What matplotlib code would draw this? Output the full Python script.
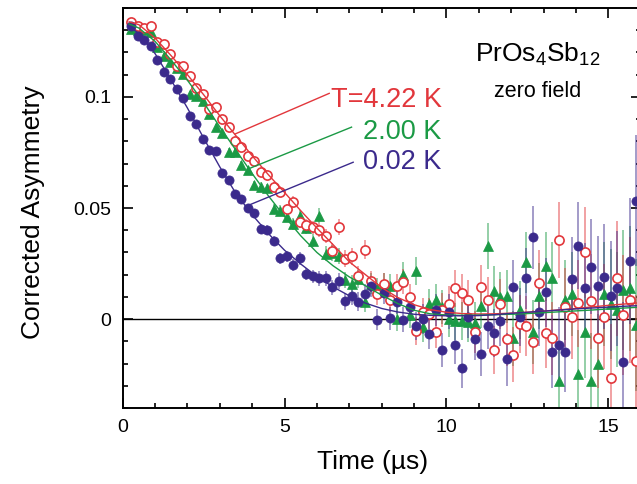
import matplotlib
matplotlib.use("Agg")
import matplotlib.pyplot as plt
from matplotlib.ticker import MultipleLocator, FixedLocator

plt.rcParams['font.family'] = ['Liberation Sans', 'DejaVu Sans']
plt.rcParams['mathtext.fontset'] = 'custom'
plt.rcParams['mathtext.rm'] = 'Liberation Sans'
plt.rcParams['mathtext.it'] = 'Liberation Sans:italic'
plt.rcParams['mathtext.default'] = 'regular'

# ---- muSR zero-field data: time bins (microseconds) ----
time_us = [
    0.27, 0.47, 0.67, 0.87, 1.07, 1.27, 1.47, 1.67, 1.87, 2.07,
    2.27, 2.47, 2.67, 2.87, 3.07, 3.27, 3.47, 3.67, 3.87, 4.07,
    4.27, 4.47, 4.67, 4.87, 5.07, 5.27, 5.47, 5.67, 5.87, 6.07,
    6.27, 6.47, 6.67, 6.87, 7.07, 7.27, 7.47, 7.67, 7.87, 8.07,
    8.27, 8.47, 8.67, 8.87, 9.07, 9.27, 9.47, 9.67, 9.87, 10.07,
    10.27, 10.47, 10.67, 10.87, 11.07, 11.27, 11.47, 11.67, 11.87, 12.07,
    12.27, 12.47, 12.67, 12.87, 13.07, 13.27, 13.47, 13.67, 13.87, 14.07,
    14.27, 14.47, 14.67, 14.87, 15.07, 15.27, 15.47, 15.67, 15.87,
]

# corrected asymmetry at T = 4.22 K
asym_422K = [
    0.1336, 0.1320, 0.1310, 0.1321, 0.1249, 0.1239, 0.1194, 0.1141, 0.1138, 0.1096,
    0.1041, 0.1014, 0.0946, 0.0953, 0.0901, 0.0863, 0.0803, 0.0773, 0.0735, 0.0713,
    0.0661, 0.0649, 0.0596, 0.0573, 0.0494, 0.0527, 0.0438, 0.0423, 0.0413, 0.0402,
    0.0374, 0.0308, 0.0416, 0.0272, 0.0282, 0.0196, 0.0313, 0.0170, 0.0113, 0.0158,
    0.0085, 0.0148, 0.0168, 0.0100, -0.0053, 0.0031, 0.0025, -0.0058, 0.0040, 0.0068,
    0.0138, 0.0118, 0.0087, -0.0057, 0.0143, 0.0087, -0.0138, 0.0068, -0.0090, -0.0160,
    -0.0023, -0.0030, -0.0102, 0.0161, -0.0063, -0.0087, 0.0356, 0.0053, 0.0010, 0.0072,
    0.0300, 0.0080, -0.0087, 0.0010, -0.0267, 0.0183, 0.0018, 0.0087, -0.0188,
]

# corrected asymmetry at T = 2.00 K
asym_200K = [
    0.1306, 0.1303, 0.1300, 0.1292, 0.1223, 0.1186, 0.1156, 0.1129, 0.1104, 0.1014,
    0.1003, 0.0983, 0.0923, 0.0863, 0.0838, 0.0751, 0.0754, 0.0694, 0.0670, 0.0603,
    0.0596, 0.0588, 0.0495, 0.0488, 0.0460, 0.0430, 0.0463, 0.0410, 0.0353, 0.0466,
    0.0295, 0.0298, 0.0282, 0.0176, 0.0160, 0.0181, 0.0077, 0.0160, 0.0139, 0.0159,
    0.0150, 0.0000, 0.0199, 0.0020, 0.0215, -0.0035, 0.0068, 0.0088, 0.0053, 0.0000,
    -0.0010, -0.0008, -0.0012, -0.0018, 0.0057, 0.0330, 0.0128, 0.0098, 0.0102, -0.0087,
    0.0040, 0.0255, -0.0057, 0.0105, 0.0237, 0.0183, -0.0278, 0.0087, 0.0113, -0.0245,
    -0.0057, -0.0278, -0.0203, 0.0113, 0.0068, 0.0042, 0.0132, 0.0138, -0.0027,
]

# corrected asymmetry at T = 0.02 K
asym_002K = [
    0.1319, 0.1276, 0.1254, 0.1231, 0.1164, 0.1114, 0.1081, 0.1036, 0.0994, 0.0913,
    0.0878, 0.0811, 0.0763, 0.0758, 0.0657, 0.0625, 0.0565, 0.0541, 0.0499, 0.0477,
    0.0405, 0.0402, 0.0353, 0.0273, 0.0282, 0.0243, 0.0273, 0.0203, 0.0192, 0.0183,
    0.0183, 0.0143, 0.0173, 0.0080, 0.0102, 0.0078, 0.0113, 0.0147, -0.0003, 0.0116,
    0.0003, 0.0078, -0.0003, 0.0053, -0.0030, 0.0000, -0.0065, 0.0042, -0.0140, 0.0033,
    -0.0117, -0.0222, 0.0008, -0.0090, -0.0158, -0.0030, -0.0063, -0.0008, -0.0180, 0.0143,
    0.0008, 0.0183, 0.0368, 0.0030, 0.0120, -0.0146, -0.0117, -0.0150, 0.0180, 0.0330,
    0.0138, 0.0236, 0.0150, 0.0190, 0.0105, 0.0138, -0.0192, 0.0263, 0.0533,
]

# statistical uncertainty per time bin (grows with muon decay)
asym_err = [
    0.0009, 0.0009, 0.0009, 0.0010, 0.0010, 0.0011, 0.0011, 0.0012, 0.0012, 0.0013,
    0.0013, 0.0014, 0.0015, 0.0015, 0.0016, 0.0017, 0.0018, 0.0018, 0.0019, 0.0020,
    0.0021, 0.0022, 0.0023, 0.0024, 0.0025, 0.0027, 0.0028, 0.0029, 0.0030, 0.0032,
    0.0033, 0.0035, 0.0036, 0.0038, 0.0040, 0.0042, 0.0044, 0.0046, 0.0048, 0.0050,
    0.0052, 0.0055, 0.0057, 0.0060, 0.0063, 0.0066, 0.0069, 0.0072, 0.0076, 0.0079,
    0.0083, 0.0087, 0.0091, 0.0095, 0.0099, 0.0104, 0.0109, 0.0114, 0.0119, 0.0125,
    0.0130, 0.0136, 0.0143, 0.0149, 0.0156, 0.0164, 0.0171, 0.0179, 0.0188, 0.0196,
    0.0206, 0.0215, 0.0225, 0.0236, 0.0247, 0.0258, 0.0270, 0.0283, 0.0296,
]

# fitted relaxation curves
fit_time = [
    0.2, 0.5, 1.0, 1.5, 2.0, 2.5, 3.0, 3.5, 4.0, 4.5, 5.0, 5.5, 6.0, 6.5, 7.0, 7.5,
    8.0, 8.5, 9.0, 9.5, 10.0, 10.5, 11.0, 11.5, 12.0, 12.5, 13.0, 13.5, 14.0, 14.5,
    15.0, 15.5, 16.0,
]
fit_422K = [
    0.1338, 0.1325, 0.1265, 0.1185, 0.1100, 0.1010, 0.0915, 0.0825, 0.0735, 0.0650,
    0.0570, 0.0488, 0.0410, 0.0335, 0.0258, 0.0200, 0.0142, 0.0097, 0.0065, 0.0043,
    0.0031, 0.0025, 0.0023, 0.0024, 0.0027, 0.0031, 0.0036, 0.0042, 0.0048, 0.0055,
    0.0062, 0.0068, 0.0074,
]
fit_200K = [
    0.1328, 0.1310, 0.1250, 0.1165, 0.1075, 0.0975, 0.0865, 0.0760, 0.0655, 0.0555,
    0.0462, 0.0375, 0.0300, 0.0240, 0.0190, 0.0150, 0.0108, 0.0070, 0.0040, 0.0024,
    0.0018, 0.0017, 0.0018, 0.0020, 0.0022, 0.0025, 0.0029, 0.0033, 0.0037, 0.0041,
    0.0046, 0.0050, 0.0054,
]
fit_002K = [
    0.1318, 0.1285, 0.1195, 0.1075, 0.0950, 0.0815, 0.0685, 0.0565, 0.0470, 0.0385,
    0.0310, 0.0248, 0.0192, 0.0145, 0.0105, 0.0072, 0.0048, 0.0032, 0.0022, 0.0017,
    0.0015, 0.0015, 0.0016, 0.0020, 0.0026, 0.0031, 0.0036, 0.0041, 0.0046, 0.0050,
    0.0054, 0.0058, 0.0061,
]

labels = ['T=4.22 K', '2.00 K', '0.02 K']

RED = '#e2373c'
GREEN = '#1b9a45'
PURPLE = '#3b2a8c'

fig = plt.figure(figsize=(6.37, 4.84), dpi=100)
ax = fig.add_axes([0.1926, 0.1570, 0.8131, 0.8264])

ax.axhline(0, color='black', lw=1.0, zorder=1)

# error bars
for vals, col in ((asym_200K, GREEN), (asym_422K, RED), (asym_002K, PURPLE)):
    ax.errorbar(time_us, vals, yerr=asym_err, fmt='none', ecolor=col,
                elinewidth=1.2, alpha=0.55, capsize=0, zorder=2)

# markers
ax.plot(time_us, asym_200K, linestyle='none', marker='^', ms=7.2,
        mfc=GREEN, mec=GREEN, mew=0.5, zorder=3)
ax.plot(time_us, asym_422K, linestyle='none', marker='o', ms=6.6,
        mfc='white', mec=RED, mew=1.2, zorder=3)
ax.plot(time_us, asym_002K, linestyle='none', marker='o', ms=6.6,
        mfc=PURPLE, mec=PURPLE, mew=0.5, zorder=3)

# fit curves
ax.plot(fit_time, fit_422K, color=RED, lw=1.0, zorder=4)
ax.plot(fit_time, fit_200K, color=GREEN, lw=1.0, zorder=4)
ax.plot(fit_time, fit_002K, color=PURPLE, lw=1.0, zorder=4)

# temperature labels with leader lines to each curve
label_y = [0.0954, 0.0811, 0.0676]
leaders = [((6.38, 0.1016), (3.47, 0.0833)),
           ((7.07, 0.0864), (3.88, 0.0676)),
           ((7.12, 0.0706), (3.88, 0.0512))]
for text, ly, (p0, p1), col in zip(labels, label_y, leaders, (RED, GREEN, PURPLE)):
    ax.text(9.855, ly, text, ha='right', va='baseline', color=col, fontsize=19.5)
    ax.plot([p0[0], p1[0]], [p0[1], p1[1]], color=col, lw=1.0, zorder=4)

ax.text(12.83, 0.1156, r'PrOs$_4$Sb$_{12}$', ha='center', va='baseline',
        fontsize=19, color='black')
ax.text(12.83, 0.0999, 'zero field', ha='center', va='baseline',
        fontsize=15.5, color='black')

ax.set_xlim(0, 16)
ax.set_ylim(-0.04, 0.14)
ax.xaxis.set_major_locator(MultipleLocator(5))
ax.xaxis.set_minor_locator(MultipleLocator(1))
ax.yaxis.set_major_locator(FixedLocator([0, 0.05, 0.1]))
ax.yaxis.set_minor_locator(MultipleLocator(0.01))
ax.set_yticklabels(['0', '0.05', '0.1'])

ax.tick_params(which='both', direction='in', top=True, right=True,
               width=1.2, colors='black')
ax.tick_params(which='major', length=7.5, labelsize=14, pad=8)
ax.tick_params(which='minor', length=3.8)
for sp in ax.spines.values():
    sp.set_linewidth(1.4)

ax.set_xlabel('Time (µs)', fontsize=19)
ax.set_ylabel('Corrected Asymmetry', fontsize=19)
ax.xaxis.set_label_coords(0.483, -0.105)
ax.yaxis.set_label_coords(-0.150, 0.49)

fig.savefig('out.png', dpi=100)
